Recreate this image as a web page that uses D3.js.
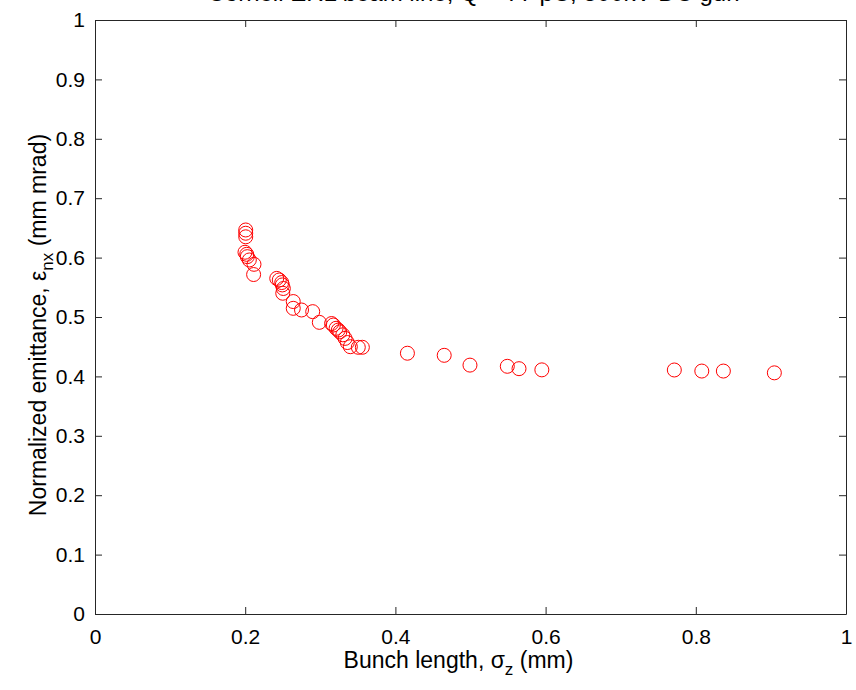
<!DOCTYPE html>
<html><head><meta charset="utf-8">
<script src="https://cdn.jsdelivr.net/npm/d3@7"></script>
<style>body{margin:0;background:#fff}svg{display:block}text{font-family:"Liberation Sans",Arial,sans-serif}</style>
</head><body>
<svg id="c" width="856" height="690"></svg>
<script>
const bunchLength = [0.2007,0.2007,0.2007,0.1997,0.202,0.2028,0.2055,0.2117,0.2112,
  0.242,0.2454,0.2486,0.2494,0.2508,0.25,0.264,0.264,0.275,0.2899,0.2987,
  0.315,0.3174,0.321,0.324,0.326,0.33,0.333,0.336,0.340,0.3506,0.356,
  0.416,0.465,0.4993,0.549,0.5646,0.595,0.7714,0.808,0.8367,0.9046];
const emittance = [0.6465,0.641,0.635,0.609,0.6055,0.6016,0.596,0.5887,0.5715,
  0.565,0.5623,0.558,0.554,0.548,0.54,0.526,0.5146,0.5118,0.509,0.491,
  0.489,0.4865,0.481,0.478,0.475,0.47,0.464,0.457,0.45,0.449,0.449,
  0.439,0.4355,0.419,0.417,0.413,0.411,0.4108,0.409,0.409,0.406];
const xTicks = [0,0.2,0.4,0.6,0.8,1];
const yTicks = [0,0.1,0.2,0.3,0.4,0.5,0.6,0.7,0.8,0.9,1];
const titleText = "Cornell ERL beam line, Q = 77 pC, 500kV DC gun";

const svg = d3.select("#c");
const L=95,R=846,T=20,B=614;
const x = d3.scaleLinear().domain([0,1]).range([L,R]);
const y = d3.scaleLinear().domain([0,1]).range([B,T]);
const fmt = d => d===0?"0":d===1?"1":String(d);
const axCol="#262626";

// axes
const gx = svg.append("g").attr("transform",`translate(0,${B})`)
  .call(d3.axisBottom(x).tickValues(xTicks).tickFormat(fmt).tickSizeInner(-7).tickSizeOuter(0).tickPadding(15));
const gxt = svg.append("g").attr("transform",`translate(0,${T})`)
  .call(d3.axisTop(x).tickValues(xTicks).tickFormat("").tickSizeInner(-7).tickSizeOuter(0));
const gy = svg.append("g").attr("transform",`translate(${L},0)`)
  .call(d3.axisLeft(y).tickValues(yTicks).tickFormat(fmt).tickSizeInner(-7).tickSizeOuter(0).tickPadding(10));
const gyr = svg.append("g").attr("transform",`translate(${R},0)`)
  .call(d3.axisRight(y).tickValues(yTicks).tickFormat("").tickSizeInner(-7).tickSizeOuter(0));
[gx,gxt,gy,gyr].forEach(g=>{
  g.selectAll("path").attr("stroke",axCol).attr("stroke-width",1);
  g.selectAll("line").attr("stroke",axCol).attr("stroke-width",1);
  g.selectAll("text").attr("fill","#000").style("font-size","21px");
});

// points
svg.append("g").selectAll("circle").data(bunchLength).join("circle")
  .attr("cx",(d,i)=>x(d)).attr("cy",(d,i)=>y(emittance[i])).attr("r",7)
  .attr("fill","none").attr("stroke","#ff0000").attr("stroke-width",1);

// title (clipped at top, as in the reference)
svg.append("text").attr("x",(L+R)/2+3).attr("y",1).attr("text-anchor","middle")
  .style("font-size","24px").attr("fill","#000").text(titleText);

// x label
const xl = svg.append("text").attr("x",(L+R)/2-12).attr("y",668).attr("text-anchor","middle")
  .style("font-size","23px").attr("fill","#000");
xl.append("tspan").text("Bunch length, σ");
xl.append("tspan").attr("dy",7).style("font-size","17px").text("z");
xl.append("tspan").attr("dy",-7).text(" (mm)");

// y label
const yl = svg.append("text").attr("transform",`translate(46,325) rotate(-90)`).attr("text-anchor","middle")
  .style("font-size","23px").attr("fill","#000");
yl.append("tspan").text("Normalized emittance, ε");
yl.append("tspan").attr("dy",7).style("font-size","17px").text("nx");
yl.append("tspan").attr("dy",-7).text(" (mm mrad)");
</script>
</body></html>
